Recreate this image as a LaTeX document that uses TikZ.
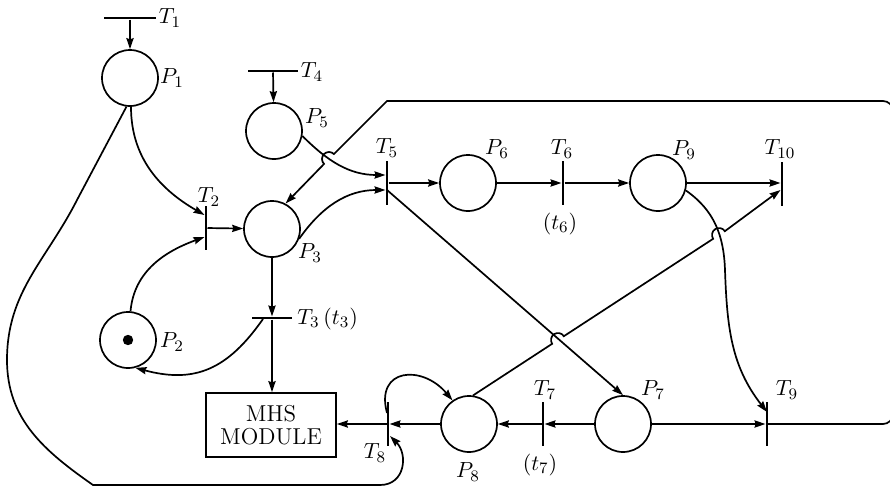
\documentclass[tikz,border=0pt]{standalone}
\usetikzlibrary{arrows.meta,calc}
\begin{document}
\begin{tikzpicture}[x=0.5pt,y=0.5pt,
  every node/.style={inner sep=0pt},
  place/.style={circle,draw,line width=0.85pt,minimum size=28pt},
  vbar/.style={rectangle,fill=black,minimum width=1.1pt,minimum height=22pt},
  hbar/.style={rectangle,fill=black,minimum height=1.1pt},
  conn/.style={line width=0.85pt,-{Stealth[length=5.5pt,width=3.6pt,inset=0.6pt]}},
  lbl/.style={font=\fontsize{11}{13}\selectfont}]
\useasboundingbox (0,0) rectangle (890,-487);

% places
\node[place] (P1) at (130,-78) {};
\node[place] (P5) at (274,-131) {};
\node[place] (P3) at (272,-229) {};
\node[place] (P2) at (128,-340) {};
\node[place] (P6) at (468,-183) {};
\node[place] (P9) at (658,-183) {};
\node[place] (P8) at (469,-424) {};
\node[place] (P7) at (623,-424) {};
\fill (P2.center) circle (2.6pt);

% transitions
\node[hbar,minimum width=26pt] (T1) at (130,-18) {};
\node[hbar,minimum width=25pt] (T4) at (273,-71) {};
\node[hbar,minimum width=20pt] (T3) at (272,-318) {};
\node[vbar] (T2) at (206,-228) {};
\node[vbar] (T5) at (387,-183) {};
\node[vbar] (T6) at (563,-183) {};
\node[vbar] (T10) at (782,-184) {};
\node[vbar] (T8) at (388,-424) {};
\node[vbar] (T7) at (543,-424) {};
\node[vbar] (T9) at (767,-424) {};

% module
\node[draw,line width=0.85pt,minimum width=65pt,minimum height=32pt,align=center,
  font=\fontsize{11.5}{11.5}\selectfont] (MHS) at (271,-425) {MHS\\MODULE};

% labels
\node[lbl] (lT1) at (170,-18) {$T_1$};
\node[lbl] (lP1) at (172,-78) {$P_1$};
\node[lbl] (lT4) at (312,-72) {$T_4$};
\node[lbl] (lP5) at (317,-118) {$P_5$};
\node[lbl] (lT2) at (209,-197) {$T_2$};
\node[lbl] (lP3) at (310,-253) {$P_3$};
\node[lbl] (lP2) at (172,-342) {$P_2$};
\node[lbl,anchor=west] (lT3) at (297,-319) {$T_3\,(t_3)$};
\node[lbl] (lT5) at (387,-148) {$T_5$};
\node[lbl] (lP6) at (497,-149) {$P_6$};
\node[lbl] (lT6) at (562,-149) {$T_6$};
\node[lbl] (lt6) at (560,-224) {$(t_6)$};
\node[lbl] (lP9) at (684,-150) {$P_9$};
\node[lbl] (lT10) at (780,-149) {$T_{10}$};
\node[lbl] (lT7) at (545,-390) {$T_7$};
\node[lbl] (lt7) at (540,-465) {$(t_7)$};
\node[lbl] (lP7) at (653,-390) {$P_7$};
\node[lbl] (lT9) at (787,-390) {$T_9$};
\node[lbl] (lT8) at (375,-453) {$T_8$};
\node[lbl] (lP8) at (468,-472) {$P_8$};

% straight arcs
\draw[conn] (T1) -- (P1);
\draw[conn] (T4) -- (P5);
\draw[conn] (T2) -- (P3);
\draw[conn] (P3) -- (T3);
\draw[conn] (T3) -- (T3 |- MHS.north);
\draw[conn] (T5) -- (P6);
\draw[conn] (P6) -- (T6);
\draw[conn] (T6) -- (P9);
\draw[conn] (P9) -- (P9 -| T10.west);
\draw[conn] ($(T5.center)+(0,-7)$) -- (P7.north);
\draw[conn] (P7) -- (T7);
\draw[conn] (T7) -- (P8);
\draw[conn] (P8) -- (T8);
\draw[conn] (T8) -- (T8 -| MHS.east);
\draw[conn] (P7) -- (T9);

% curved arcs
\draw[conn] (P1.-88) to[out=-90,in=150] ($(T2.west)+(0,13)$);
\draw[conn] (P2.85) to[out=85,in=200] ($(T2.west)+(0,-9)$);
\draw[conn] ($(T3.center)+(-9,-1)$) to[out=-125,in=-15,looseness=1.15] (P2.-75);
\draw[conn] (P3.-20) to[out=55,in=180] ($(T5.west)+(0,-7)$);
\draw[conn] (P5.-10) to[out=-45,in=180] ($(T5.west)+(0,8)$);
\draw[conn] ($(T8.center)+(-1,11)$) to[out=105,in=130,looseness=1.8] (P8.125);
\draw[conn] (P9.-15) to[out=-35,in=92] (725,-270) to[out=-88,in=128] ($(T9.center)+(0,12)$);

% long feedback from P1 round the left side to T8
\draw[conn] (P1.-97) -- (77,-200) to[out=-117,in=90] (7,-360)
  to[out=-90,in=145] (93,-485) -- (380,-485)
  to[out=0,in=-45,looseness=1.3] ($(T8.center)+(2,-12)$);

% P8 to T10, hopping over two crossings
\draw[conn] (P8.82) -- ($(558,-340)+(213:7)$) arc[start angle=213,end angle=33,radius=3.5pt]
  -- ($(719,-235)+(213:7)$) arc[start angle=213,end angle=33,radius=3.5pt]
  -- ($(T10.west)+(0,-6)$);

% T9 round the right side back to P3
\draw[conn] (T9.center) -- (883,-424) arc[start angle=-90,end angle=0,radius=5pt]
  -- (893,-111) arc[start angle=0,end angle=90,radius=5pt] -- (387,-101)
  -- ($(329,-159)+(45:7)$) arc[start angle=45,end angle=225,radius=3.5pt]
  -- (P3.62);
\end{tikzpicture}
\end{document}
